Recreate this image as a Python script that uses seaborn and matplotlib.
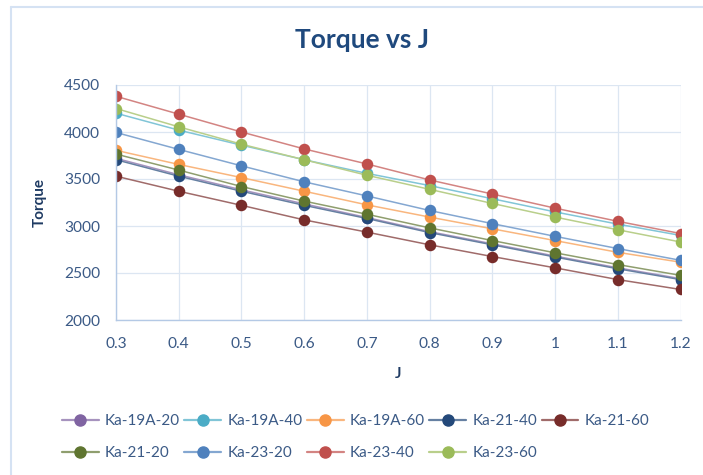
import numpy as np
import pandas as pd
import matplotlib
matplotlib.use("Agg")
import matplotlib.pyplot as plt
import seaborn as sns
from matplotlib.lines import Line2D
from matplotlib.colors import to_rgb

# ---------------- data ----------------
J = [0.3, 0.4, 0.5, 0.6, 0.7, 0.8, 0.9, 1.0, 1.1, 1.2]
series_names = ["Ka-19A-20", "Ka-19A-40", "Ka-19A-60", "Ka-21-40", "Ka-21-60",
                "Ka-21-20", "Ka-23-20", "Ka-23-40", "Ka-23-60"]
ka19a_20 = [3720, 3545, 3385, 3235, 3090, 2940, 2810, 2680, 2555, 2440]
ka19a_40 = [4200, 4020, 3860, 3705, 3560, 3430, 3290, 3150, 3020, 2900]
ka19a_60 = [3805, 3655, 3515, 3370, 3225, 3095, 2970, 2845, 2720, 2615]
ka21_40 = [3705, 3530, 3370, 3220, 3080, 2930, 2800, 2670, 2545, 2430]
ka21_60 = [3530, 3370, 3220, 3065, 2935, 2800, 2675, 2555, 2430, 2325]
ka21_20 = [3765, 3595, 3420, 3265, 3125, 2980, 2845, 2715, 2590, 2475]
ka23_20 = [3995, 3815, 3640, 3470, 3320, 3165, 3025, 2890, 2760, 2635]
ka23_40 = [4380, 4190, 4000, 3820, 3660, 3490, 3340, 3190, 3050, 2920]
ka23_60 = [4250, 4055, 3870, 3705, 3540, 3390, 3240, 3095, 2960, 2830]
values = [ka19a_20, ka19a_40, ka19a_60, ka21_40, ka21_60, ka21_20, ka23_20, ka23_40, ka23_60]

x_ticks = [0.3, 0.4, 0.5, 0.6, 0.7, 0.8, 0.9, 1.0, 1.1, 1.2]
x_ticklabels = ["0.3", "0.4", "0.5", "0.6", "0.7", "0.8", "0.9", "1", "1.1", "1.2"]
y_ticks = [2000, 2500, 3000, 3500, 4000, 4500]

marker_colors = ["#8064A2", "#4BACC6", "#F79646", "#24497A", "#772C2A",
                 "#5F7530", "#4F81BD", "#C0504D", "#9BBB59"]

def lighten(c, f):
    r, g, b = to_rgb(c)
    return (r + (1 - r) * f, g + (1 - g) * f, b + (1 - b) * f)

line_colors = [lighten(c, 0.3) for c in marker_colors]

df = pd.DataFrame({
    "J": J * len(series_names),
    "Torque": [v for vals in values for v in vals],
    "Series": [s for s in series_names for _ in J],
})

# ---------------- style ----------------
sns.set_style("white")
plt.rcParams["font.family"] = ["Lato", "DejaVu Sans"]

fig = plt.figure(figsize=(7.03, 4.75), dpi=100)
ax = fig.add_axes([116 / 703, 1 - 320 / 475, 564.5 / 703, 235 / 475])

sns.lineplot(data=df, x="J", y="Torque", hue="Series", hue_order=series_names,
             palette=dict(zip(series_names, marker_colors)), marker="o",
             markersize=8.3, markeredgewidth=0, linewidth=1.1, legend=False, ax=ax)

for ln, lc, mc in zip(ax.lines, line_colors, marker_colors):
    ln.set_color(lc)
    ln.set_markerfacecolor(mc)
    ln.set_markeredgecolor(mc)

ax.set_xlim(0.3, 1.2)
ax.set_ylim(2000, 4500)
ax.set_xticks(x_ticks)
ax.set_xticklabels(x_ticklabels)
ax.set_yticks(y_ticks)

grid_c = "#DCE6F2"
ax.grid(True, color=grid_c, linewidth=0.9)
ax.set_axisbelow(True)
for s in ["top", "right"]:
    ax.spines[s].set_visible(False)
for s in ["left", "bottom"]:
    ax.spines[s].set_color("#B4C9E5")
    ax.spines[s].set_linewidth(1.0)

tick_c = "#3B5A86"
ax.tick_params(axis="both", length=0, labelsize=11.2, colors=tick_c)
ax.tick_params(axis="y", pad=11.5)
ax.tick_params(axis="x", pad=12)

ax.set_xlabel("J", fontsize=11, fontweight="bold", color="#1F3B63", labelpad=12)
ax.set_ylabel("Torque", fontsize=11, fontweight="bold", color="#1F3B63", labelpad=12)

fig.text(362.5 / 703, 1 - 40.5 / 475, "Torque vs J", ha="center", va="center",
         fontsize=19, fontweight="bold", color="#1F497D")

# chart border (light blue)
fig.add_artist(Line2D([11 / 703, 11 / 703], [0, 1 - 6.5 / 475], transform=fig.transFigure,
                      color="#D5E2F3", linewidth=1.5))
fig.add_artist(Line2D([11 / 703, 1], [1 - 6.5 / 475, 1 - 6.5 / 475], transform=fig.transFigure,
                      color="#D5E2F3", linewidth=1.5))

handles = [Line2D([0], [0], color=lc, linewidth=1.6, marker="o", markersize=8,
                  markerfacecolor=mc, markeredgecolor=mc)
           for lc, mc in zip(line_colors, marker_colors)]
# legend filled row by row (matplotlib fills columns first)
order = [0, 5, 1, 6, 2, 7, 3, 8, 4]
leg = fig.legend([handles[i] for i in order], [series_names[i] for i in order],
                 loc="upper left",
                 bbox_to_anchor=(62 / 703, 1 - 414 / 475), ncol=5, frameon=False,
                 fontsize=11, handlelength=2.4, handletextpad=0.4,
                 columnspacing=0.3, labelspacing=1.2, borderpad=0, borderaxespad=0)
for t in leg.get_texts():
    t.set_color("#3B5A86")

fig.savefig("out.png", dpi=100)
